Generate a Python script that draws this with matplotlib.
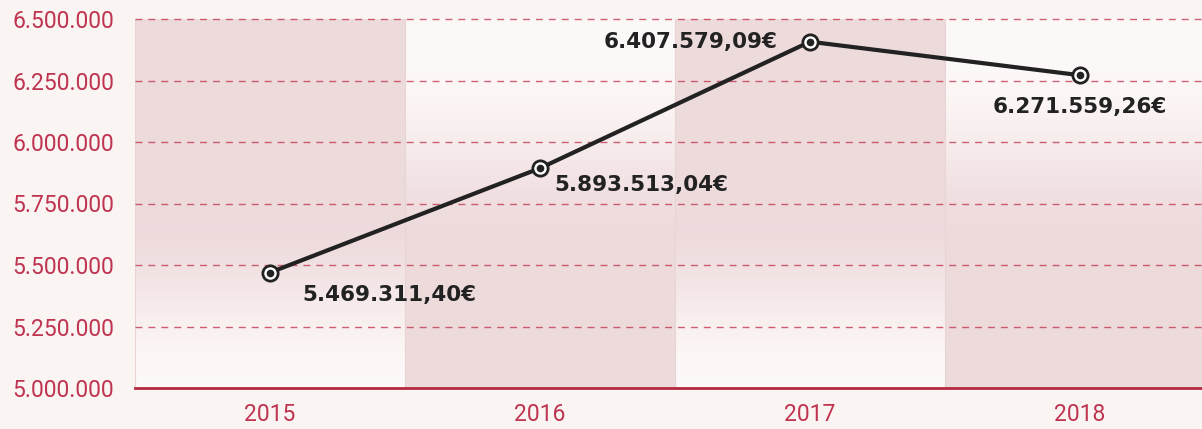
import matplotlib
matplotlib.use('Agg')
import matplotlib.pyplot as plt
from matplotlib.colors import LinearSegmentedColormap
import numpy as np

years = ['2015', '2016', '2017', '2018']
values = [5469311.40, 5893513.04, 6407579.09, 6271559.26]
labels = ['5.469.311,40€', '5.893.513,04€', '6.407.579,09€', '6.271.559,26€']
yticks = [5000000, 5250000, 5500000, 5750000, 6000000, 6250000, 6500000]
ytick_labels = ['5.000.000', '5.250.000', '5.500.000', '5.750.000',
                '6.000.000', '6.250.000', '6.500.000']

bg = '#faf5f3'
crimson = '#c23a52'
dark = '#222222'

fig = plt.figure(figsize=(12.02, 4.29), dpi=100, facecolor=bg)
ax = fig.add_axes([135 / 1202, 1 - 388 / 429, 1067 / 1202, (388 - 19) / 429])
ax.set_facecolor(bg)

ymin, ymax = 5000000, 6500000
ax.set_xlim(-0.5, -0.5 + 1067 / 270)
ax.set_ylim(ymin, ymax)

# column bands with vertical gradients, alternating direction
pink = np.array([0.933, 0.855, 0.862])
light = np.array([0.992, 0.973, 0.969])
cmap = LinearSegmentedColormap.from_list('band', [light, pink], N=256)
grad = np.linspace(0, 1, 256).reshape(-1, 1)  # 0 = bottom
for i in range(len(years)):
    if i % 2 == 0:
        t = np.clip((grad - 0.02) / 0.45, 0, 1)
    else:
        t = np.clip(((1 - grad) - 0.12) / 0.5, 0, 1)
    t = t * t * (3 - 2 * t)
    ax.imshow(t, cmap=cmap, vmin=0, vmax=1, aspect='auto', origin='lower',
              extent=[i - 0.5, i + 0.5, ymin, ymax], zorder=0,
              interpolation='bilinear')
    ax.axvline(i - 0.5, color='#e8d3d5', lw=0.8, zorder=1)

# dashed grid
for yv in yticks[1:]:
    ax.axhline(yv, color=crimson, lw=1, dashes=(5, 4.3), alpha=0.8,
               zorder=2, clip_on=False)

x = np.arange(len(years))
ax.plot(x, values, color=dark, lw=3, zorder=4, solid_capstyle='round')
ax.plot(x, values, 'o', ms=11, mfc='white', mec=dark, mew=2, zorder=5)
ax.plot(x, values, 'o', ms=4.5, color=dark, zorder=6)

offsets = [(23, -16), (10, -12), (-23, 0), (0, -23)]
aligns = ['left', 'left', 'right', 'center']
for xi, v, lab, off, al in zip(x, values, labels, offsets, aligns):
    ax.annotate(lab, (xi, v), xytext=off, textcoords='offset points',
                ha=al, va='center', fontsize=15.5, fontweight='bold',
                color=dark, family='DejaVu Sans', zorder=7)

for s in ['top', 'right', 'left']:
    ax.spines[s].set_visible(False)
ax.spines['bottom'].set_color('#b5283f')
ax.spines['bottom'].set_linewidth(2)
ax.spines['bottom'].set_zorder(8)

ax.set_xticks(x)
ax.set_xticklabels(years)
ax.set_yticks(yticks)
ax.set_yticklabels(ytick_labels)
ax.tick_params(axis='both', length=0, labelcolor='#bf3450', labelsize=16.5)
ax.tick_params(axis='x', pad=11)
ax.tick_params(axis='y', pad=88)
for t in ax.get_yticklabels() + ax.get_xticklabels():
    t.set_family('Roboto')
for t in ax.get_yticklabels():
    t.set_ha('left')

fig.savefig('out.png', dpi=100, facecolor=bg)
